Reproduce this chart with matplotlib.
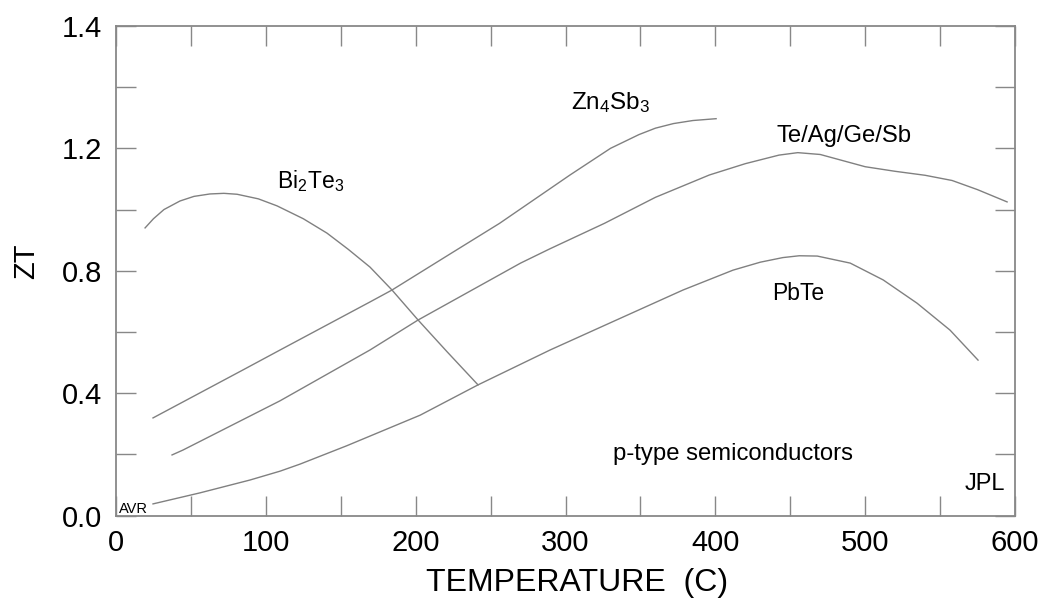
import matplotlib
matplotlib.use("Agg")
import matplotlib.pyplot as plt
import numpy as np

plt.rcParams['font.family'] = ['Liberation Sans', 'DejaVu Sans']
plt.rcParams['mathtext.fontset'] = 'custom'
plt.rcParams['mathtext.rm'] = 'Liberation Sans'
plt.rcParams['mathtext.it'] = 'Liberation Sans'

# curves (temperature C, ZT)
bi_x = [19.4, 25, 32, 42.7, 52, 62.7, 72, 80.8, 95, 107.5, 125, 140.8, 155, 169.5, 184.2, 201.6, 221, 241.6]
bi_y = [0.940, 0.970, 1.000, 1.028, 1.043, 1.051, 1.053, 1.050, 1.035, 1.012, 0.970, 0.923, 0.870, 0.812, 0.737, 0.639, 0.535, 0.427]

zn_x = [24.7, 84.8, 109.5, 169.5, 184.2, 223, 256, 303, 330, 349, 360, 372, 385, 400.5]
zn_y = [0.319, 0.476, 0.541, 0.698, 0.737, 0.855, 0.955, 1.113, 1.200, 1.245, 1.266, 1.281, 1.291, 1.297]

te_x = [37.4, 44.7, 109.5, 169.5, 201.6, 270, 289.7, 326, 360, 396, 420, 442.5, 455, 470, 485, 500, 520, 540, 558, 575, 594.7]
te_y = [0.198, 0.214, 0.375, 0.541, 0.639, 0.825, 0.872, 0.955, 1.040, 1.113, 1.150, 1.178, 1.186, 1.180, 1.160, 1.140, 1.125, 1.112, 1.095, 1.065, 1.025]

pb_x = [24.7, 56, 89.4, 109.5, 122.8, 154, 203, 241.6, 289.7, 334, 378.4, 411.8, 430, 445, 456, 468, 490, 512, 534.6, 556.6, 575.3]
pb_y = [0.038, 0.074, 0.116, 0.145, 0.168, 0.228, 0.328, 0.427, 0.541, 0.639, 0.737, 0.802, 0.828, 0.843, 0.849, 0.848, 0.825, 0.770, 0.694, 0.606, 0.508]

xticks = [0, 100, 200, 300, 400, 500, 600]
xlabels = ['0', '100', '200', '300', '400', '500', '600']
yticks = [0.0, 0.4, 0.8, 1.2, 1.6]
ylabels = ['0.0', '0.4', '0.8', '1.2', '1.4']

fig = plt.figure(figsize=(10.46, 6.0), dpi=100)
ax = fig.add_axes([0.1109, 0.1408, 0.8595, 0.8159])

lc = '#808080'
for xs, ys in [(bi_x, bi_y), (zn_x, zn_y), (te_x, te_y), (pb_x, pb_y)]:
    ax.plot(xs, ys, color=lc, lw=1.0)

ax.set_xlim(0, 600)
ax.set_ylim(0, 1.6)
ax.set_xticks(xticks)
ax.set_xticklabels(xlabels)
ax.set_yticks(yticks)
ax.set_yticklabels(ylabels)
ax.set_xticks(np.arange(50, 600, 100), minor=True)
ax.set_yticks(np.arange(0.2, 1.6, 0.4), minor=True)

for s in ax.spines.values():
    s.set_color('#888888')
    s.set_linewidth(1.3)
ax.tick_params(which='both', direction='in', length=14.5, width=1.0, color='#888888',
               top=True, right=True, labelsize=21, pad=10)

ax.set_xlabel('TEMPERATURE  (C)', fontsize=23)
ax.xaxis.set_label_coords(0.513, -0.108)
ax.set_ylabel('ZT', fontsize=21)
ax.yaxis.set_label_coords(-0.084, 0.52)

ax.text(107.5, 1.071, r'Bi$_2$Te$_3$', fontsize=16.5, ha='left', va='baseline')
ax.text(303.7, 1.329, r'Zn$_4$Sb$_3$', fontsize=17.5, ha='left', va='baseline')
ax.text(441, 1.221, 'Te/Ag/Ge/Sb', fontsize=17.2, ha='left', va='baseline')
ax.text(437.8, 0.704, 'PbTe', fontsize=16.5, ha='left', va='baseline')
ax.text(331.7, 0.181, 'p-type semiconductors', fontsize=17.2, ha='left', va='baseline')
ax.text(566.6, 0.083, 'JPL', fontsize=17, ha='left', va='baseline')
ax.text(2, 0.008, 'AVR', fontsize=10.5, ha='left', va='baseline')

fig.savefig('out.png', dpi=100)
